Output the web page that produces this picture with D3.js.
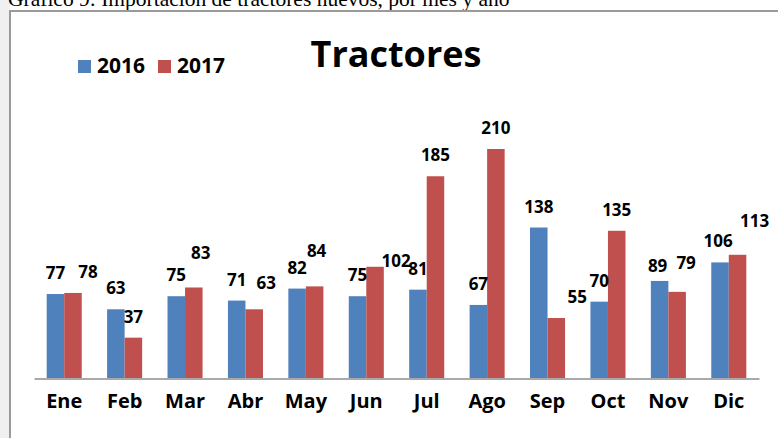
<!DOCTYPE html>
<html>
<head>
<meta charset="utf-8">
<script src="https://cdn.jsdelivr.net/npm/d3@7"></script>
<style>
  html, body { margin: 0; padding: 0; background: #fff; }
  svg { display: block; }
</style>
</head>
<body>
<div id="wrapper"></div>
<script>
const months = ['Ene', 'Feb', 'Mar', 'Abr', 'May', 'Jun', 'Jul', 'Ago', 'Sep', 'Oct', 'Nov', 'Dic'];
const years = ['2016', '2017'];
const values2016 = [77, 63, 75, 71, 82, 75, 81, 67, 138, 70, 89, 106];
const values2017 = [78, 37, 83, 63, 84, 102, 185, 210, 55, 135, 79, 113];

// hand-moved data labels in the original (dx, dy from default spot)
const labelNudge2016 = [[0, 0], [0, 0], [0, 0], [0, 0], [0, 0], [0, 0], [0, 0], [0, 0], [0, 0], [0, 0], [-2, 6], [-2, 0]];
const labelNudge2017 = [[15, 0], [0, 0], [7, -13], [12, -5], [2, -14], [21, 15], [0, 0], [0, 0], [21, 0], [0, 0], [9, -8], [17, -13]];

const dataset = months.map((m, i) => ({
    month: m,
    values: [
        { year: '2016', value: values2016[i], nudge: labelNudge2016[i] },
        { year: '2017', value: values2017[i], nudge: labelNudge2017[i] }
    ]
}));

const dimensions = {
    width: 778,
    height: 438,
    plotLeft: 34,
    plotRight: 759,
    baseline: 378,
    top: 149
};

const colors = { '2016': '#4F81BD', '2017': '#C0504D' };
const font = '"Open Sans", "Noto Sans", sans-serif';

const wrapper = d3.select('#wrapper')
    .append('svg')
    .attr('width', dimensions.width)
    .attr('height', dimensions.height);

// page behind the chart object
wrapper.append('rect')
    .attr('x', 0).attr('y', 0)
    .attr('width', 10).attr('height', dimensions.height)
    .attr('fill', '#f0f0f0');

// document caption, cropped at the top like the source screenshot
wrapper.append('text')
    .attr('x', 8)
    .attr('y', 6)
    .attr('fill', '#000')
    .style('font-family', '"Liberation Serif", "Times New Roman", serif')
    .style('font-size', '21.5px')
    .text('Gráfico 9: Importación de tractores nuevos, por mes y año');

// chart frame (top and left edges visible)
wrapper.append('path')
    .attr('d', `M10,${dimensions.height} V11 H${dimensions.width}`)
    .attr('fill', 'none')
    .attr('stroke', '#9a9a9a')
    .attr('stroke-width', 2);

const xScale = d3.scaleBand()
    .domain(months)
    .range([dimensions.plotLeft, dimensions.plotRight])
    .paddingInner(0.42)
    .paddingOuter(0.21);

const x1Scale = d3.scaleBand()
    .domain(years)
    .range([0, xScale.bandwidth()]);

const yScale = d3.scaleLinear()
    .domain([0, 210])
    .range([dimensions.baseline, dimensions.top]);

const groups = wrapper.append('g')
    .selectAll('g')
    .data(dataset)
    .join('g')
    .attr('transform', d => `translate(${xScale(d.month)},0)`);

groups.selectAll('rect')
    .data(d => d.values)
    .join('rect')
    .attr('x', d => x1Scale(d.year))
    .attr('y', d => yScale(d.value))
    .attr('width', x1Scale.bandwidth())
    .attr('height', d => yScale(0) - yScale(d.value))
    .attr('fill', d => colors[d.year]);

groups.selectAll('text')
    .data(d => d.values)
    .join('text')
    .attr('x', d => x1Scale(d.year) + x1Scale.bandwidth() / 2 + d.nudge[0])
    .attr('y', d => yScale(d.value) - 15 + d.nudge[1])
    .attr('text-anchor', 'middle')
    .attr('fill', '#000')
    .style('font-family', font)
    .style('font-weight', 'bold')
    .style('font-size', '17px')
    .text(d => d.value);

const xAxisGenerator = d3.axisBottom(xScale)
    .tickSize(0)
    .tickPadding(15);

const xAxis = wrapper.append('g')
    .attr('transform', `translate(0,${dimensions.baseline + 0.5})`)
    .call(xAxisGenerator);

xAxis.select('.domain')
    .attr('stroke', '#8c8c8c')
    .attr('stroke-width', 1.5);

xAxis.selectAll('text')
    .attr('fill', '#000')
    .style('font-family', font)
    .style('font-weight', 'bold')
    .style('font-size', '20px');

wrapper.append('text')
    .attr('x', 396)
    .attr('y', 67)
    .attr('text-anchor', 'middle')
    .attr('fill', '#000')
    .style('font-family', font)
    .style('font-weight', 'bold')
    .style('font-size', '36px')
    .text('Tractores');

const legend = wrapper.append('g')
    .selectAll('g')
    .data(years)
    .join('g')
    .attr('transform', (d, i) => `translate(${78 + i * 80},60)`);

legend.append('rect')
    .attr('width', 13)
    .attr('height', 13)
    .attr('fill', d => colors[d]);

legend.append('text')
    .attr('x', 19)
    .attr('y', 13)
    .attr('fill', '#000')
    .style('font-family', font)
    .style('font-weight', 'bold')
    .style('font-size', '21px')
    .text(d => d);
</script>
</body>
</html>
